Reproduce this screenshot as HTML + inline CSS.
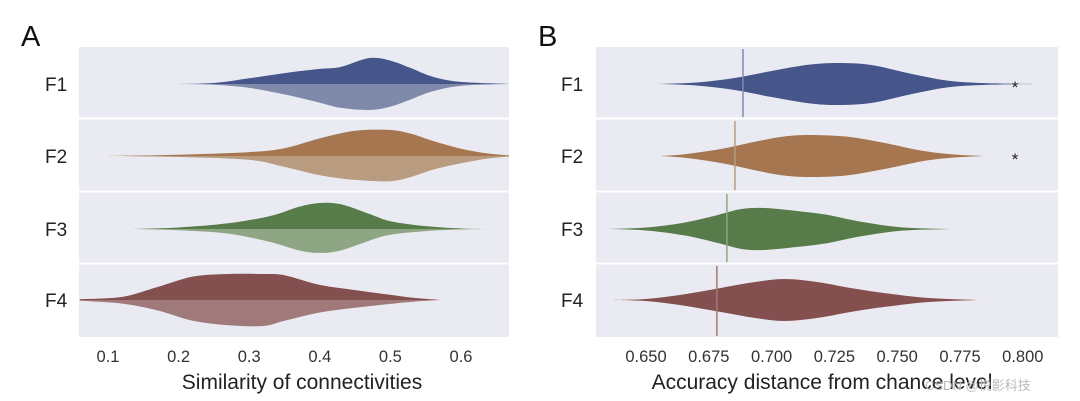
<!DOCTYPE html>
<html><head><meta charset="utf-8">
<style>
html,body{margin:0;padding:0;background:#fff;}
svg{display:block;font-family:"Liberation Sans","Noto Sans CJK SC",sans-serif;}
</style></head>
<body>
<svg id="chart" width="1080" height="401" viewBox="0 0 1080 401"></svg>
<script>
// ---------- data ----------
const rowLabels = ["F1","F2","F3","F4"];
const ticksA = [0.1,0.2,0.3,0.4,0.5,0.6];
const tickLabelsA = ["0.1","0.2","0.3","0.4","0.5","0.6"];
const ticksB = [0.650,0.675,0.700,0.725,0.750,0.775,0.800];
const tickLabelsB = ["0.650","0.675","0.700","0.725","0.750","0.775","0.800"];
// Panel A: split violins
const aX = [
 [0.19,0.25,0.30,0.35,0.40,0.43,0.47,0.50,0.53,0.56,0.60,0.67],
 [0.10,0.20,0.30,0.35,0.40,0.45,0.50,0.53,0.56,0.60,0.64,0.68],
 [0.13,0.20,0.27,0.33,0.37,0.40,0.43,0.47,0.50,0.55,0.60,0.64],
 [0.06,0.12,0.17,0.22,0.27,0.32,0.35,0.40,0.45,0.50,0.53,0.57]
];
const aUpper = [
 [0,0.04,0.22,0.42,0.58,0.66,1.00,0.90,0.60,0.28,0.08,0],
 [0,0.05,0.15,0.30,0.68,0.97,1.00,0.85,0.58,0.28,0.09,0],
 [0,0.06,0.22,0.50,0.85,1.00,0.95,0.58,0.30,0.11,0.02,0],
 [0.03,0.12,0.50,0.90,1.00,1.00,0.95,0.58,0.38,0.20,0.09,0]
];
const aLower = [
 [0,0.03,0.15,0.40,0.72,0.92,1.00,0.87,0.58,0.28,0.07,0],
 [0,0.04,0.15,0.42,0.74,0.92,0.97,0.80,0.53,0.28,0.09,0],
 [0,0.05,0.18,0.50,0.82,0.92,0.82,0.45,0.22,0.08,0.02,0],
 [0.03,0.14,0.40,0.80,0.97,1.00,0.80,0.48,0.30,0.15,0.07,0]
];
// Panel B: symmetric violins
const bX = [
 [0.655,0.670,0.685,0.700,0.715,0.727,0.740,0.755,0.770,0.785,0.805],
 [0.655,0.665,0.680,0.695,0.705,0.715,0.730,0.745,0.760,0.772,0.785],
 [0.635,0.650,0.665,0.678,0.688,0.697,0.710,0.722,0.735,0.752,0.772],
 [0.635,0.650,0.665,0.680,0.693,0.705,0.718,0.732,0.745,0.762,0.782]
];
const bHeights = [
 [0,0.07,0.28,0.62,0.92,1.00,0.90,0.50,0.16,0.04,0],
 [0,0.08,0.34,0.72,0.93,1.00,0.92,0.62,0.25,0.08,0],
 [0,0.07,0.30,0.65,0.95,1.00,0.86,0.68,0.36,0.08,0],
 [0,0.05,0.27,0.58,0.85,1.00,0.86,0.56,0.33,0.10,0]
];
const chanceB = [0.6886,0.6854,0.6822,0.6782];
const sigB = [true,true,false,false];

// ---------- layout ----------
const NS="http://www.w3.org/2000/svg";
const svg=document.getElementById('chart');
function el(tag,attrs,parent){const e=document.createElementNS(NS,tag);for(const k in attrs)e.setAttribute(k,attrs[k]);(parent||svg).appendChild(e);return e;}
const rowTop=[47,119,192,264], rowBot=[118,191,263,337];
const rowMid=[84,156,229,300];
const colorsDark=["#46568a","#a57650","#587b4a","#844f4f"];
const colorsLight=["#7f8aab","#b99c80","#8fa684","#a07a7a"];
const xA=v=>108+(v-0.1)*706;
const xB=v=>646+(v-0.65)*2512;
const HA=26, HB=21;

const defs=el('defs',{});
const cpA=el('clipPath',{id:'clipA'},defs);
el('rect',{x:79,y:47,width:430,height:290},cpA);
const cpB=el('clipPath',{id:'clipB'},defs);
el('rect',{x:596,y:47,width:462,height:290},cpB);

function spline(pts){
  let d=`M${pts[0][0]},${pts[0][1]}`;
  for(let i=0;i<pts.length-1;i++){
    const p0=pts[Math.max(i-1,0)],p1=pts[i],p2=pts[i+1],p3=pts[Math.min(i+2,pts.length-1)];
    const c1=[p1[0]+(p2[0]-p0[0])/6,p1[1]+(p2[1]-p0[1])/6];
    const c2=[p2[0]-(p3[0]-p1[0])/6,p2[1]-(p3[1]-p1[1])/6];
    d+=`C${c1[0]},${c1[1]} ${c2[0]},${c2[1]} ${p2[0]},${p2[1]}`;
  }
  return d;
}
function halfPath(xs,hs,xf,mid,H,sign){
  const pts=xs.map((x,i)=>[xf(x),mid+sign*hs[i]*H]);
  return spline(pts)+`L${xf(xs[xs.length-1])},${mid}L${xf(xs[0])},${mid}Z`;
}

const pA=el('g',{'clip-path':'url(#clipA)'});


const bgA=el('rect',{x:79,y:47,width:430,height:290,fill:"#eaeaf2"},pA);


const pB=el('g',{'clip-path':'url(#clipB)'});


const bgB=el('rect',{x:596,y:47,width:462,height:290,fill:"#eaeaf2"},pB);


const outer=el('g',{});



for(let r=0;r<4;r++){
  const u=el('path',{d:halfPath(aX[r],aUpper[r],xA,rowMid[r],HA,-1),fill:colorsDark[r]},pA);
  
  
  const l=el('path',{d:halfPath(aX[r],aLower[r],xA,rowMid[r],HA,1),fill:colorsLight[r]},pA);
  
  
  const vb=el('path',{d:halfPath(bX[r],bHeights[r],xB,rowMid[r],HB,-1)+halfPath(bX[r],bHeights[r],xB,rowMid[r],HB,1),fill:colorsDark[r]},pB);
  
  
  const cl=el('line',{x1:xB(chanceB[r]),x2:xB(chanceB[r]),y1:rowTop[r]+2,y2:rowBot[r]-1,stroke:colorsLight[r],'stroke-width':1.5},pB);
  
  
  if(sigB[r]){
    const s=el('text',{x:1015,y:rowMid[r]+9,'font-size':17,fill:'#222','text-anchor':'middle'},pB);
    s.textContent='*';
    
    
  }
  for(const x of [45,561]){
    const t=el('text',{x:x,y:rowMid[r]+7,'font-size':19,fill:'#222'},outer);
    t.textContent=rowLabels[r];
    
    
  }
}
for(let r=1;r<4;r++){
  for(const [x1,x2,g] of [[79,509,pA],[596,1058,pB]]){
    const s=el('line',{x1:x1,x2:x2,y1:rowTop[r]-0.5,y2:rowTop[r]-0.5,stroke:'#fff','stroke-width':2},g);
    
    
  }
}
ticksA.forEach((v,i)=>{
  const t=el('text',{x:xA(v),y:362,'font-size':16.5,fill:'#333','text-anchor':'middle'},outer);
  t.textContent=tickLabelsA[i];
  
  
});
ticksB.forEach((v,i)=>{
  const t=el('text',{x:xB(v),y:362,'font-size':16.5,fill:'#333','text-anchor':'middle'},outer);
  t.textContent=tickLabelsB[i];
  
  
});
const tA=el('text',{x:302,y:389,'font-size':21,fill:'#222','text-anchor':'middle'},outer);
tA.textContent='Similarity of connectivities';


const tB=el('text',{x:822,y:389,'font-size':21,fill:'#222','text-anchor':'middle'},outer);
tB.textContent='Accuracy distance from chance level';


const la=el('text',{x:21,y:46,'font-size':29,fill:'#111'},outer);
la.textContent='A';


const lb=el('text',{x:538,y:46,'font-size':29,fill:'#111'},outer);
lb.textContent='B';


const wm=el('text',{x:925,y:390,'font-size':13,fill:'#bbb'},outer);
wm.textContent='CSDN @悦影科技';


</script>
</body></html>
